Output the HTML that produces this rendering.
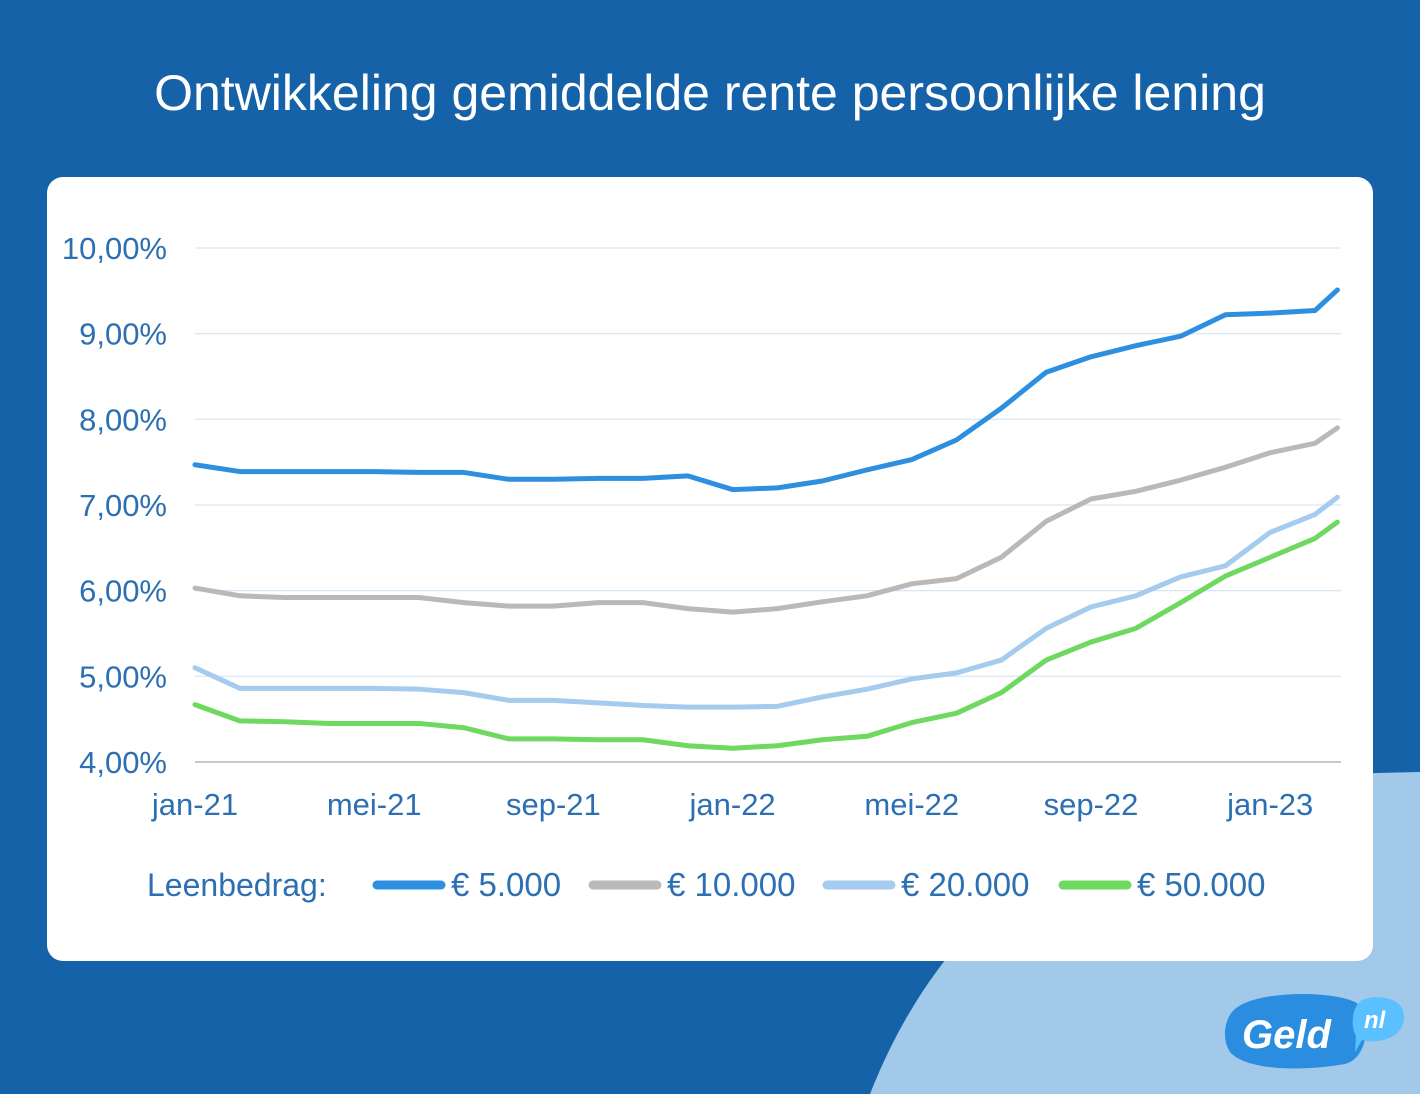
<!DOCTYPE html>
<html><head><meta charset="utf-8"><style>
html,body{margin:0;padding:0}
body{width:1420px;height:1094px;overflow:hidden;background:#1662a9;font-family:"Liberation Sans",sans-serif;position:relative}
#title{position:absolute;left:0;top:64px;width:1420px;text-align:center;color:#fff;font-size:50px}
#card{position:absolute;left:47px;top:177px;width:1326px;height:784px;background:#fff;border-radius:16px}
svg{position:absolute;left:0;top:0}
</style></head><body>
<svg width="1420" height="1094">
<path d="M870,1094 C930,940 1060,800 1290,775 L1420,772 L1420,1094 Z" fill="#a3c9ea"/>
</svg>
<div id="title">Ontwikkeling gemiddelde rente persoonlijke lening</div>
<div id="card"></div>
<svg id="chart" width="1420" height="1094"></svg>
<svg width="1420" height="1094">
<path d="M1232,1012 C1250,990 1330,990 1355,1002 C1372,1012 1370,1058 1345,1064 C1300,1072 1245,1070 1230,1052 C1222,1040 1224,1022 1232,1012 Z" fill="#2b8de0"/>
<path d="M1362,1000 C1375,994 1405,996 1404,1018 C1403,1040 1375,1044 1362,1040 L1355,1052 L1356,1036 C1350,1026 1352,1006 1362,1000 Z" fill="#5bc0ff"/>
<text x="1242" y="1048" font-size="40" font-weight="bold" font-style="italic" fill="#fff" font-family="Liberation Sans, sans-serif">Geld</text>
<text x="1364" y="1028" font-size="24" font-weight="bold" font-style="italic" fill="#fff" font-family="Liberation Sans, sans-serif">nl</text>
</svg>
<script>
const months=[0,1,2,3,4,5,6,7,8,9,10,11,12,13,14,15,16,17,18,19,20,21,22,23,24,25,25.5];
const s5000=[7.47,7.39,7.39,7.39,7.39,7.38,7.38,7.30,7.30,7.31,7.31,7.34,7.18,7.20,7.28,7.41,7.53,7.76,8.13,8.55,8.73,8.86,8.97,9.22,9.24,9.27,9.51];
const s10000=[6.03,5.94,5.92,5.92,5.92,5.92,5.86,5.82,5.82,5.86,5.86,5.79,5.75,5.79,5.87,5.94,6.08,6.14,6.39,6.81,7.07,7.16,7.29,7.44,7.61,7.72,7.90];
const s20000=[5.10,4.86,4.86,4.86,4.86,4.85,4.81,4.72,4.72,4.69,4.66,4.64,4.64,4.65,4.76,4.85,4.97,5.04,5.19,5.56,5.81,5.94,6.16,6.29,6.68,6.89,7.09];
const s50000=[4.67,4.48,4.47,4.45,4.45,4.45,4.40,4.27,4.27,4.26,4.26,4.19,4.16,4.19,4.26,4.30,4.46,4.57,4.81,5.19,5.40,5.56,5.86,6.17,6.39,6.61,6.80];
const yTicks=[4,5,6,7,8,9,10];
const yLabels=["4,00%","5,00%","6,00%","7,00%","8,00%","9,00%","10,00%"];
const xTickPos=[0,4,8,12,16,20,24];
const xLabels=["jan-21","mei-21","sep-21","jan-22","mei-22","sep-22","jan-23"];
const seriesNames=["€ 5.000","€ 10.000","€ 20.000","€ 50.000"];
const NS="http://www.w3.org/2000/svg";
const svg=document.getElementById('chart');
const X=m=>195+m*44.8;
const Y=v=>762-(v-4)*85.67;
function el(t,a,txt){const e=document.createElementNS(NS,t);for(const k in a)e.setAttribute(k,a[k]);if(txt!==undefined)e.textContent=txt;svg.appendChild(e);return e;}
const tc="#2d6fb3";
yTicks.forEach((t,i)=>{
 const g=el('line',{x1:195,x2:1341,y1:Y(t),y2:Y(t),stroke:t===4?'#c9c9c9':'#d6e6f3','stroke-width':t===4?2:1.2});
 
 const l=el('text',{x:167,y:Y(t)+11,'text-anchor':'end','font-size':31,fill:tc},yLabels[i]);
 
});
xTickPos.forEach((m,i)=>{
 const l=el('text',{x:X(m),y:815,'text-anchor':'middle','font-size':31,fill:tc},xLabels[i]);
 
});
const cols=["#2e8fe0","#b9b9b9","#a5cbee","#6fd861"];
[s5000,s10000,s20000,s50000].forEach((s,i)=>{
 const p=el('polyline',{points:s.map((v,j)=>X(months[j])+','+Y(v)).join(' '),fill:'none',stroke:cols[i],'stroke-width':5,'stroke-linejoin':'round','stroke-linecap':'round'});
 
});
const lg=el('text',{x:147,y:896,'font-size':32,fill:tc},'Leenbedrag:');

const lx=[377,593,827,1063];
seriesNames.forEach((n,i)=>{
 const s=el('line',{x1:lx[i],x2:lx[i]+64,y1:885,y2:885,stroke:cols[i],'stroke-width':9,'stroke-linecap':'round'});
 
 const t=el('text',{x:lx[i]+74,y:896,'font-size':33,fill:tc},n);
 
});
</script>
</body></html>
